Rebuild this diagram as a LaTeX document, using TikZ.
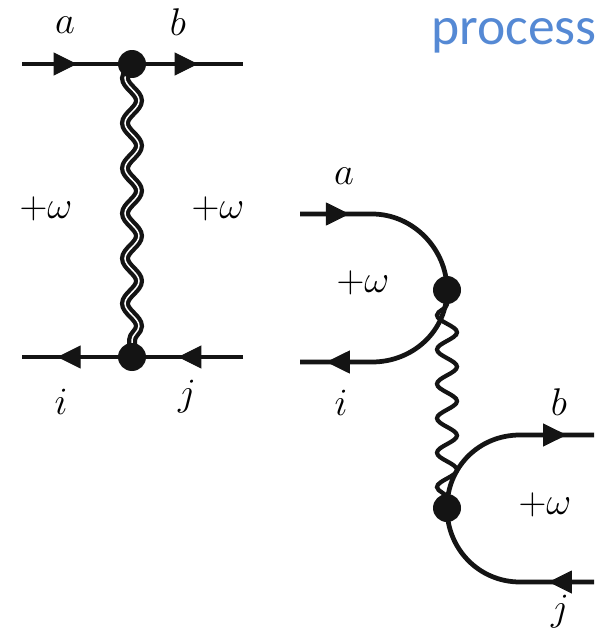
\documentclass[tikz,border=0pt]{standalone}
\usepackage{fontspec}
\newfontfamily\titlefont{Carlito}
\usetikzlibrary{arrows.meta,backgrounds,decorations.markings,decorations.pathmorphing}
\definecolor{titleblue}{RGB}{85,137,212}
\tikzset{
  vertex/.style={circle,fill=black!92,inner sep=0pt,minimum size=0.56cm},
  lbl/.style={inner sep=0pt,font=\huge,scale=1.06},
  fermion/.style={line width=0.095cm,draw=black!92,postaction={decorate,decoration={markings,
    mark=at position #1 with {\arrow[line width=0.02cm,black!92]{Triangle[length=0.47cm,width=0.46cm]}}}}},
  bosondouble/.style={line width=0.085cm,draw=black!92,double,double distance=0.03cm,decorate,
    decoration={snake,mirror,segment length=0.902cm,amplitude=0.14cm}},
  bosonsingle/.style={line width=0.085cm,draw=black!92,decorate,
    decoration={snake,mirror,segment length=0.688cm,amplitude=0.2cm,pre length=0.288cm,post length=0.1cm}}
}
\begin{document}
\begin{tikzpicture}[x=0.02cm,y=-0.02cm]
\useasboundingbox (0,0) rectangle (600,628);
\node[vertex] (v1) at (132,64) {};
\node[vertex] (v2) at (132,357) {};
\node[vertex] (v3) at (447,290) {};
\node[vertex] (v4) at (447,508) {};
\coordinate (a1) at (22,64);
\coordinate (b1) at (243,64);
\coordinate (i1) at (22,357);
\coordinate (j1) at (243,357);
\coordinate (a2) at (300,214);
\coordinate (a3) at (372,214);
\coordinate (i2) at (300,362);
\coordinate (i3) at (372,362);
\coordinate (b2) at (594,435);
\coordinate (b3) at (520,435);
\coordinate (j2) at (594,582);
\coordinate (j3) at (520,582);
\begin{scope}[on background layer]
\draw[fermion=0.5] (a1) -- (v1.center);
\draw[fermion=0.595] (v1.center) -- (b1);
\draw[fermion=0.68] (v2.center) -- (i1);
\draw[fermion=0.586] (j1) -- (v2.center);
\draw[bosondouble] (v1.center) -- (v2.center);
\draw[fermion=0.26] (a2) -- (a3) .. controls +(41,0) and +(0,-41) .. (v3.center);
\draw[fermion=0.86] (v3.center) .. controls +(0,41) and +(41,0) .. (i3) -- (i2);
\draw[bosonsingle] (v3.center) -- (v4.center);
\draw[fermion=0.855] (v4.center) .. controls +(0,-41) and +(-41,0) .. (b3) -- (b2);
\draw[fermion=0.24] (j2) -- (j3) .. controls +(-41,0) and +(0,41) .. (v4.center);
\end{scope}
\node[lbl] (la1) at (65,25) {$a$};
\node[lbl] (lb1) at (178,22) {$b$};
\node[lbl] (lw1) at (46,209) {$+\omega$};
\node[lbl] (lw2) at (218,209) {$+\omega$};
\node[lbl] (li1) at (61,402) {$i$};
\node[lbl] (lj1) at (187,397) {$j$};
\node[lbl] (la2) at (344,176) {$a$};
\node[lbl] (lw3) at (363,283) {$+\omega$};
\node[lbl] (li2) at (341,403) {$i$};
\node[lbl] (lb2) at (559,402) {$b$};
\node[lbl] (lw4) at (545,505) {$+\omega$};
\node[lbl] (lj2) at (560,612) {$j$};
\node[inner sep=0pt,anchor=east,text=titleblue,font=\titlefont\fontsize{30.5}{36}\selectfont] (title) at (597,36) {process};
\end{tikzpicture}
\end{document}
